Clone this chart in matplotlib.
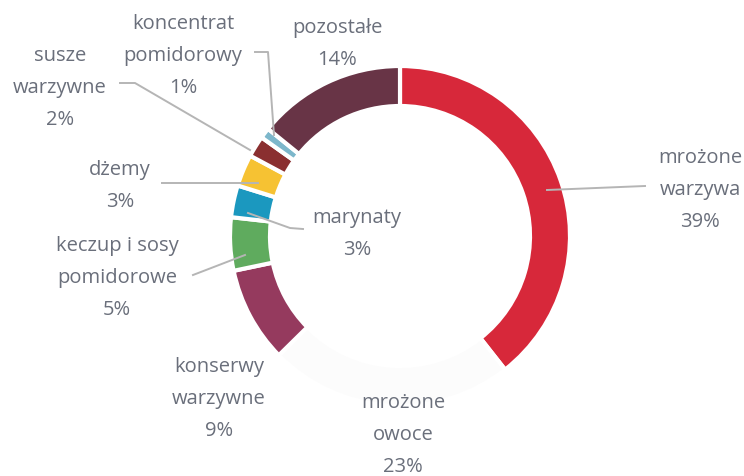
import matplotlib
matplotlib.use("Agg")
import matplotlib.pyplot as plt

plt.rcParams['font.family'] = ['Open Sans', 'DejaVu Sans']

# shares, clockwise from the top
labels = ["mrożone\nwarzywa", "mrożone\nowoce", "konserwy\nwarzywne",
          "keczup i sosy\npomidorowe", "marynaty", "dżemy",
          "susze\nwarzywne", "koncentrat\npomidorowy", "pozostałe"]
values = [39, 23, 9, 5, 3, 3, 2, 1, 14]
colors = ["#d7283a", "#fcfcfc", "#953a5e", "#5fab5e", "#1b98bf",
          "#f6c233", "#8a2f30", "#7db7cb", "#683446"]

# label block centres (x, y) in picture pixels
label_pos = [(700, 190), (403, 435), (219, 399), (117, 278), (357, 234),
             (120, 186), (60, 88), (183, 56), (337, 44)]
# leader lines in picture pixels
leaders = [
    [(547, 190), (645, 186)],
    None,
    None,
    [(245, 255), (193, 275)],
    [(248, 213), (290, 228), (303, 229)],
    [(258, 183), (162, 183)],
    [(250, 150), (135, 83), (120, 83)],
    [(274, 135), (268, 52), (255, 52)],
    None,
]

W, H = 744, 476
fig = plt.figure(figsize=(W / 100, H / 100), dpi=100)
ax = fig.add_axes([0, 0, 1, 1])

cx, cy, r = 400, 236, 170
ax.pie(values, colors=colors, startangle=90, counterclock=False,
       center=(cx, H - cy), radius=r, frame=True,
       wedgeprops=dict(width=40, edgecolor='white', linewidth=3))
ax.set_xlim(0, W)
ax.set_ylim(0, H)
ax.set_aspect('equal')
ax.axis('off')

txt_color = "#6a6f7b"
for lab, v, (x, y), ln in zip(labels, values, label_pos, leaders):
    ax.text(x, H - y, f"{lab}\n{v}%", ha='center', va='center',
            fontsize=14.5, color=txt_color, linespacing=1.8)
    if ln:
        xs = [p[0] for p in ln]
        ys = [H - p[1] for p in ln]
        ax.plot(xs, ys, color="#b5b5b5", lw=1.4)

fig.savefig("out.png", dpi=100)
